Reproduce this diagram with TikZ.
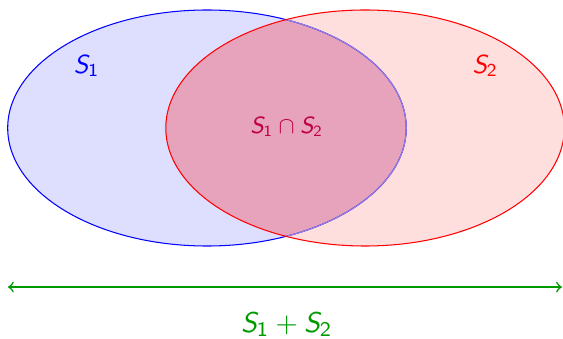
\documentclass[tikz,border=0pt]{standalone}
\usepackage{amsmath,amssymb}
\usepackage{xcolor}
\usepackage{tikz}
% Sans-serif math letters
\DeclareSymbolFont{sfletters}{OT1}{cmss}{m}{sl}
\DeclareSymbolFont{sfdigits}{OT1}{cmss}{m}{n}
\DeclareMathSymbol{S}{\mathalpha}{sfletters}{`S}
\DeclareMathSymbol{1}{\mathalpha}{sfdigits}{`1}
\DeclareMathSymbol{2}{\mathalpha}{sfdigits}{`2}
\definecolor{capfill}{RGB}{232,163,188}
\definecolor{bluein}{RGB}{156,128,224}

\begin{document}
\begin{tikzpicture}
\useasboundingbox (0,0) rectangle (7.6,-4.563);
% Set fills
\fill[blue!13] (2.794,-1.728) ellipse (2.69 and 1.593);
\fill[red!13] (4.928,-1.728) ellipse (2.69 and 1.593);
\begin{scope}
\clip (2.794,-1.728) ellipse (2.69 and 1.593);
\fill[capfill] (4.928,-1.728) ellipse (2.69 and 1.593);
\end{scope}
% Outlines
\draw[blue] (2.794,-1.728) ellipse (2.69 and 1.593);
\begin{scope}
\clip (4.928,-1.728) ellipse (2.69 and 1.593);
\draw[bluein] (2.794,-1.728) ellipse (2.69 and 1.593);
\end{scope}
\draw[red] (4.928,-1.728) ellipse (2.69 and 1.593);
% Labels
\node[blue] (s1) at (1.17,-0.89) {$S_1$};
\node[red] (s2) at (6.55,-0.89) {$S_2$};
\node[purple, font=\small] (cap) at (3.87,-1.71) {$S_1 \cap S_2$};
% Sum arrow
\coordinate (left) at (0.108,-3.875);
\coordinate (right) at (7.585,-3.875);
\draw[green!60!black, semithick, <->] (left) -- (right);
\node[green!60!black, font=\fontsize{11}{13}\selectfont] (sum) at (3.87,-4.38) {$S_1 + S_2$};
\end{tikzpicture}
\end{document}
